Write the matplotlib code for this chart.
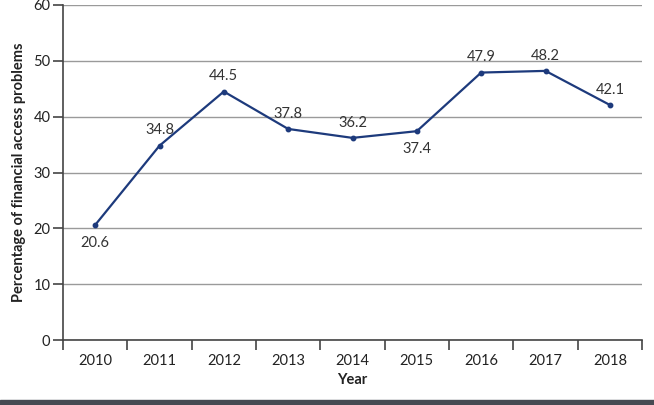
import matplotlib
matplotlib.use("Agg")
import matplotlib.pyplot as plt
from matplotlib.patches import Rectangle

years = ["2010", "2011", "2012", "2013", "2014", "2015", "2016", "2017", "2018"]
values = [20.6, 34.8, 44.5, 37.8, 36.2, 37.4, 47.9, 48.2, 42.1]
label_below = [True, False, False, False, False, True, False, False, False]
yticks = [0, 10, 20, 30, 40, 50, 60]

plt.rcParams['font.family'] = ['Lato', 'DejaVu Sans']

fig = plt.figure(figsize=(6.54, 4.05), dpi=100)
ax = fig.add_axes([63/654, 1-340/405, (642-63)/654, (340-5)/405])

x = list(range(len(years)))
ax.plot(x, values, color="#1d3a7c", lw=1.6, marker="o", ms=3.2, zorder=3)

for xi, v, below in zip(x, values, label_below):
    ax.annotate(f"{v}", (xi, v), xytext=(0, -13 if below else 11),
                textcoords="offset points", ha="center", va="center",
                fontsize=10.5, color="#333333")

ax.set_xlim(-0.5, len(years) - 0.5)
ax.set_ylim(0, 60)
ax.set_yticks(yticks)
ax.set_xticks(x)
ax.set_xticklabels(years)
ax.set_xticks([i - 0.5 for i in range(len(years) + 1)], minor=True)
ax.tick_params(axis="x", which="major", length=0, pad=10, labelsize=10.5, labelcolor="#222222")
ax.tick_params(axis="x", which="minor", length=7, width=1.2, color="#444444")
ax.tick_params(axis="y", length=7, width=1.2, color="#444444", labelsize=10.5, labelcolor="#222222", pad=2)
ax.grid(axis="y", color="#9a9a9a", lw=1)
ax.set_axisbelow(True)
for s in ["top", "right"]:
    ax.spines[s].set_visible(False)
for s in ["left", "bottom"]:
    ax.spines[s].set_color("#444444")
    ax.spines[s].set_linewidth(1.2)

ax.set_xlabel("Year", fontsize=10.5, fontweight="bold", color="#222222", labelpad=4)
ax.set_ylabel("Percentage of financial access problems", fontsize=10.5, fontweight="bold",
              color="#222222", labelpad=5)

fig.patches.append(Rectangle((0, 0), 1, 5/405, transform=fig.transFigure,
                             color="#464a52", zorder=0))

fig.savefig("out.png", dpi=100)
